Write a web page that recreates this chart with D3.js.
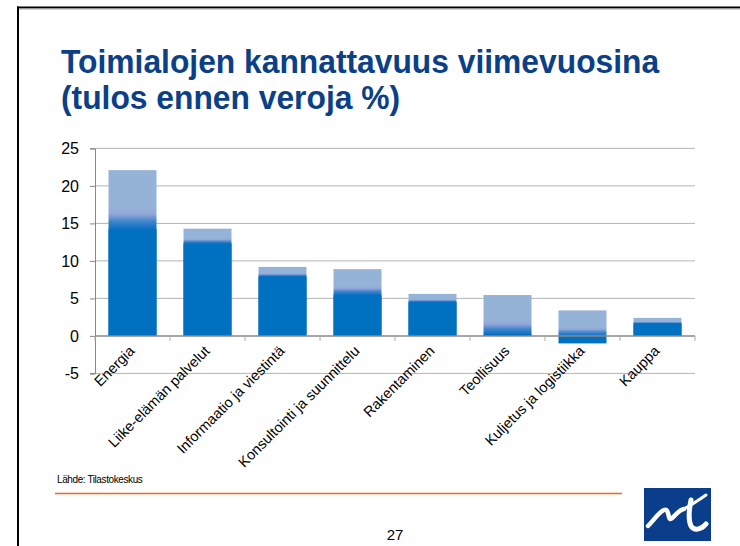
<!DOCTYPE html>
<html>
<head>
<meta charset="utf-8">
<script src="https://cdn.jsdelivr.net/npm/d3@7"></script>
<style>
  body { margin: 0; background: #fff; }
  svg { display: block; font-family: "Liberation Sans", Arial, sans-serif; }
</style>
</head>
<body>
<script>
// data
var categories = ['Energia', 'Liike-elämän palvelut', 'Informaatio ja viestintä',
  'Konsultointi ja suunnittelu', 'Rakentaminen', 'Teollisuus',
  'Kuljetus ja logistiikka', 'Kauppa'];
var lowValues = [14.2, 12.3, 7.9, 5.45, 4.5, 0.2, -1.0, 1.65];   // dark part
var highValues = [22.1, 14.3, 9.2, 8.9, 5.6, 5.45, 3.4, 2.4];    // light part
var yTicks = [-5, 0, 5, 10, 15, 20, 25];

var width = 740, height = 546;
var svg = d3.select('body').append('svg')
  .attr('width', width).attr('height', height);

// slide frame
svg.append('line').attr('x1', 17).attr('x2', 740).attr('y1', 7.5).attr('y2', 7.5)
  .attr('stroke', '#000').attr('stroke-width', 2);
svg.append('line').attr('x1', 17).attr('x2', 740).attr('y1', 9).attr('y2', 9)
  .attr('stroke', '#aaa').attr('stroke-width', 1);
svg.append('line').attr('x1', 18).attr('x2', 18).attr('y1', 6.5).attr('y2', height)
  .attr('stroke', '#000').attr('stroke-width', 2);

// title (narrow bold look)
var title = svg.append('g').attr('transform', 'translate(61,0) scale(0.935,1)')
  .append('text')
  .attr('fill', '#0b3f88')
  .attr('font-size', 34)
  .attr('font-weight', 'bold');
title.append('tspan').attr('x', 0).attr('y', 73).text('Toimialojen kannattavuus viimevuosina');
title.append('tspan').attr('x', 0).attr('y', 109).text('(tulos ennen veroja %)');

var x0 = 95, x1 = 695;
var y = d3.scaleLinear().domain([-5, 25]).range([373.4, 148.4]);
var x = d3.scaleBand().domain(categories).range([x0, x1]).paddingInner(0.36).paddingOuter(0.18);

var chart = svg.append('g');

// gridlines
chart.selectAll('.grid')
  .data(yTicks.filter(function(d){ return d > 0; }))
  .enter()
  .append('line')
  .attr('class', 'grid')
  .attr('x1', x0).attr('x2', x1)
  .attr('y1', function(d){ return y(d); })
  .attr('y2', function(d){ return y(d); })
  .attr('stroke', '#b4b4b4').attr('stroke-width', 1);

// -5 line at bottom
chart.append('line')
  .attr('x1', x0 - 5).attr('x2', x1)
  .attr('y1', y(-5)).attr('y2', y(-5))
  .attr('stroke', '#b4b4b4');

// gradients for the light bars
var defs = svg.append('defs');
categories.forEach(function(c, i){
  var lo = Math.max(lowValues[i], 0);
  var top = lo + 0.37 * (highValues[i] - lo);
  var g = defs.append('linearGradient')
    .attr('id', 'grad' + i)
    .attr('gradientUnits', 'userSpaceOnUse')
    .attr('x1', 0).attr('x2', 0)
    .attr('y1', y(top)).attr('y2', y(lo));
  g.append('stop').attr('offset', 0).attr('stop-color', '#95b3d7');
  g.append('stop').attr('offset', 0.3).attr('stop-color', '#93a6da');
  g.append('stop').attr('offset', 0.65).attr('stop-color', '#3d84cc');
  g.append('stop').attr('offset', 1).attr('stop-color', '#0a6fc2');
});

// light bars (higher value)
chart.selectAll('.bar-high')
  .data(highValues)
  .enter()
  .append('rect')
  .attr('class', 'bar-high')
  .attr('x', function(d, i){ return x(categories[i]); })
  .attr('width', x.bandwidth())
  .attr('y', function(d){ return y(d); })
  .attr('height', function(d){ return y(0) - y(d); })
  .attr('fill', function(d, i){ return 'url(#grad' + i + ')'; });

// dark bars (lower value)
chart.selectAll('.bar-low')
  .data(lowValues)
  .enter()
  .append('rect')
  .attr('class', 'bar-low')
  .attr('x', function(d, i){ return x(categories[i]); })
  .attr('width', x.bandwidth())
  .attr('y', function(d){ return y(Math.max(d, 0)); })
  .attr('height', function(d){ return Math.abs(y(d) - y(0)); })
  .attr('fill', '#0070c0');

// y axis
var yAxis = chart.append('g')
  .attr('transform', 'translate(' + x0 + ',0)')
  .call(d3.axisLeft(y).tickValues(yTicks).tickSize(5).tickPadding(11)
    .tickFormat(function(d){ return String(d); }));
yAxis.select('.domain').attr('stroke', '#888');
yAxis.selectAll('.tick line').attr('stroke', '#888');
yAxis.selectAll('.tick text').attr('font-size', 16).attr('fill', '#000')
  .attr('font-family', '"Liberation Sans", Arial, sans-serif');

// zero axis with category separators
chart.append('line')
  .attr('x1', x0).attr('x2', x1)
  .attr('y1', y(0)).attr('y2', y(0))
  .attr('stroke', '#888').attr('stroke-width', 1.5);
chart.selectAll('.sep')
  .data(d3.range(categories.length + 1))
  .enter()
  .append('line')
  .attr('class', 'sep')
  .attr('x1', function(i){ return x0 + i * x.step(); })
  .attr('x2', function(i){ return x0 + i * x.step(); })
  .attr('y1', y(0)).attr('y2', y(0) + 5)
  .attr('stroke', '#aaa');

// category labels
chart.selectAll('.cat')
  .data(categories)
  .enter()
  .append('text')
  .attr('class', 'cat')
  .attr('text-anchor', 'end')
  .attr('font-size', 14.5)
  .attr('transform', function(d){
    return 'translate(' + (x(d) + x.bandwidth() / 2 + 3) + ',' + (y(0) + 16) + ') rotate(-45)';
  })
  .text(function(d){ return d; });

// source and footer
svg.append('text').attr('x', 57).attr('y', 483)
  .attr('font-size', 10).attr('fill', '#000').attr('letter-spacing', -0.4)
  .text('Lähde: Tilastokeskus');
svg.append('line').attr('x1', 55).attr('x2', 622).attr('y1', 493.5).attr('y2', 493.5)
  .attr('stroke', '#f06a10').attr('stroke-width', 1.5);
svg.append('text').attr('x', 395).attr('y', 540)
  .attr('text-anchor', 'middle').attr('font-size', 15)
  .text('27');

// logo
var logo = svg.append('g').attr('transform', 'translate(644,488)');
logo.append('rect').attr('width', 67).attr('height', 53).attr('fill', '#0a3d8a');
logo.append('path')
  .attr('d', 'M4,38 C10,32 15,24 20,22 C25,20 24,30 26,31 C29,32 33,22 40,21')
  .attr('fill', 'none').attr('stroke', '#fff').attr('stroke-width', 4.5)
  .attr('stroke-linecap', 'round');
logo.append('path')
  .attr('d', 'M47,12 C45,22 44,32 47,38 C50,43 57,42 62,36')
  .attr('fill', 'none').attr('stroke', '#fff').attr('stroke-width', 5)
  .attr('stroke-linecap', 'round');
logo.append('path')
  .attr('d', 'M36,23 C44,19 52,14 62,7')
  .attr('fill', 'none').attr('stroke', '#fff').attr('stroke-width', 3)
  .attr('stroke-linecap', 'round');
</script>
</body>
</html>
